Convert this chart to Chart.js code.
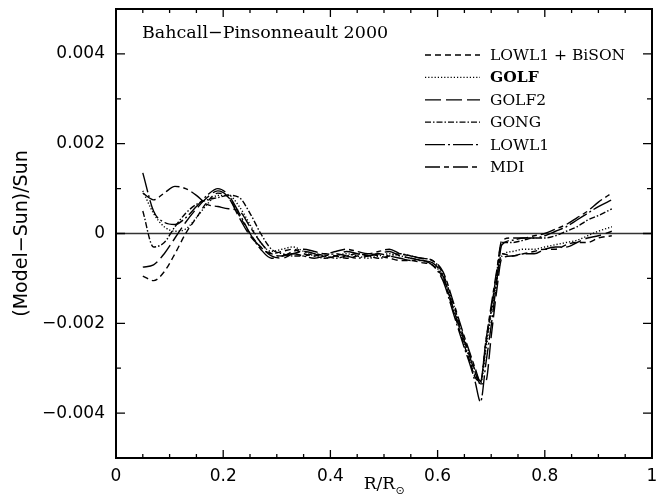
<!DOCTYPE html>
<html>
<head>
<meta charset="utf-8">
<script src="https://cdn.jsdelivr.net/npm/chart.js@4.4.1/dist/chart.umd.min.js"></script>
<style>
  html, body { margin: 0; padding: 0; background: #fff; }
  canvas { display: block; }
</style>
</head>
<body>
<canvas id="chart" width="660" height="504"></canvas>
<script>
// radius grid, R/Rsun
const xs = [0.05,0.07,0.09,0.11,0.13,0.15,0.17,0.19,0.21,0.23,0.25,0.27,0.29,0.31,0.33,0.35,
  0.37,0.39,0.41,0.43,0.45,0.47,0.49,0.51,0.53,0.55,0.57,0.59,0.61,0.63,0.65,
  0.66,0.67,0.68,0.69,0.70,0.71,0.72,
  0.74,0.76,0.78,0.80,0.82,0.84,0.86,0.88,0.90,0.925];

// (Model-Sun)/Sun in units of 1e-3
const lowlBison = [-0.95,-1.05,-0.85,-0.45,0.0,0.35,0.7,0.9,0.8,0.4,0.0,-0.3,-0.45,-0.4,-0.35,-0.45,
  -0.5,-0.45,-0.5,-0.55,-0.5,-0.45,-0.5,-0.55,-0.6,-0.6,-0.65,-0.7,-1.0,-1.75,-2.5,
  -2.85,-3.2,-3.3,-2.4,-1.7,-1.0,-0.45,
  -0.5,-0.45,-0.4,-0.35,-0.35,-0.25,-0.2,-0.2,-0.1,-0.05];
const golf = [0.95,0.45,0.15,0.05,0.1,0.35,0.65,0.85,0.85,0.6,0.2,-0.2,-0.4,-0.35,-0.3,-0.4,
  -0.5,-0.55,-0.5,-0.45,-0.5,-0.55,-0.5,-0.45,-0.5,-0.55,-0.6,-0.7,-0.95,-1.7,-2.45,
  -2.8,-3.15,-3.35,-2.6,-1.8,-1.1,-0.5,
  -0.4,-0.35,-0.35,-0.3,-0.25,-0.2,-0.15,-0.05,0.05,0.15];
const golf2 = [-0.75,-0.7,-0.45,-0.1,0.25,0.55,0.8,0.95,0.8,0.35,-0.05,-0.3,-0.5,-0.55,-0.45,-0.4,
  -0.45,-0.55,-0.5,-0.4,-0.45,-0.5,-0.45,-0.4,-0.5,-0.55,-0.6,-0.65,-0.95,-1.7,-2.4,
  -2.75,-3.1,-3.35,-3.3,-2.3,-1.3,-0.55,
  -0.5,-0.45,-0.45,-0.35,-0.3,-0.3,-0.2,-0.1,-0.05,0.05];
const gong = [0.5,-0.3,-0.2,0.15,0.45,0.65,0.75,0.8,0.85,0.8,0.45,0.0,-0.35,-0.45,-0.5,-0.5,
  -0.45,-0.5,-0.55,-0.5,-0.45,-0.5,-0.55,-0.5,-0.45,-0.5,-0.55,-0.6,-0.9,-1.6,-2.35,
  -2.7,-3.05,-3.3,-2.5,-1.7,-0.9,-0.2,
  -0.2,-0.15,-0.1,-0.1,-0.05,0.05,0.15,0.3,0.4,0.55];
const lowl1 = [1.35,0.5,0.25,0.2,0.35,0.6,0.85,1.0,0.85,0.45,0.0,-0.35,-0.55,-0.5,-0.45,-0.5,
  -0.55,-0.5,-0.45,-0.5,-0.55,-0.5,-0.45,-0.5,-0.55,-0.6,-0.6,-0.7,-1.05,-1.8,-2.55,
  -2.9,-3.3,-3.75,-2.9,-2.05,-1.1,-0.25,
  -0.15,-0.1,-0.1,-0.05,0.05,0.15,0.3,0.45,0.6,0.75];
const mdi = [0.9,0.75,0.9,1.05,1.0,0.85,0.65,0.6,0.55,0.5,0.15,-0.2,-0.45,-0.5,-0.4,-0.35,
  -0.4,-0.45,-0.4,-0.35,-0.4,-0.45,-0.4,-0.35,-0.45,-0.5,-0.55,-0.6,-0.85,-1.55,-2.3,
  -2.65,-3.0,-3.3,-2.4,-1.6,-0.85,-0.15,
  -0.1,-0.1,-0.05,0.0,0.1,0.2,0.35,0.5,0.7,0.9];

const seriesNames = ['LOWL1 + BiSON', 'GOLF', 'GOLF2', 'GONG', 'LOWL1', 'MDI'];
const seriesValues = [lowlBison, golf, golf2, gong, lowl1, mdi];
const seriesDash = [[6, 4], [1.2, 2], [16, 5], [6, 2, 1.5, 2], [20, 3, 2, 3], [15, 4, 5, 4]];

const xTickLabels = ['0', '0.2', '0.4', '0.6', '0.8', '1'];
const yTickLabels = ['\u22120.004', '\u22120.002', '0', '0.002', '0.004'];

const datasets = seriesNames.map((name, i) => ({
  label: name,
  data: xs.map((x, j) => ({ x: x, y: seriesValues[i][j] * 1e-3 })),
  borderColor: '#000',
  borderWidth: 1.4,
  borderDash: seriesDash[i],
  pointRadius: 0,
  cubicInterpolationMode: 'monotone',
  fill: false
}));

const decor = {
  id: 'decor',
  beforeDatasetsDraw(chart) {
    const { ctx, chartArea: a, scales: { y } } = chart;
    const y0 = y.getPixelForValue(0);
    ctx.save();
    ctx.strokeStyle = '#333';
    ctx.lineWidth = 1.3;
    ctx.beginPath();
    ctx.moveTo(a.left, y0);
    ctx.lineTo(a.right, y0);
    ctx.stroke();
    ctx.restore();
  },
  afterDraw(chart) {
    const { ctx, chartArea: a, scales: { x, y } } = chart;
    ctx.save();
    ctx.strokeStyle = '#000';
    ctx.fillStyle = '#000';

    // frame
    ctx.lineWidth = 2;
    ctx.strokeRect(a.left, a.top, a.right - a.left, a.bottom - a.top);

    // inward ticks on all four sides
    ctx.lineWidth = 1.3;
    ctx.beginPath();
    x.ticks.forEach(t => {
      const px = x.getPixelForValue(t.value);
      const major = Math.abs(t.value * 5 - Math.round(t.value * 5)) < 1e-6;
      const len = major ? 8 : 4;
      ctx.moveTo(px, a.bottom); ctx.lineTo(px, a.bottom - len);
      ctx.moveTo(px, a.top); ctx.lineTo(px, a.top + len);
    });
    y.ticks.forEach(t => {
      const py = y.getPixelForValue(t.value);
      const major = Math.round(t.value * 1000) % 2 === 0;
      const len = major ? 9 : 5;
      ctx.moveTo(a.left, py); ctx.lineTo(a.left + len, py);
      ctx.moveTo(a.right, py); ctx.lineTo(a.right - len, py);
    });
    ctx.stroke();

    // title inside the frame
    ctx.font = '17.5px "DejaVu Serif"';
    ctx.textAlign = 'left';
    ctx.textBaseline = 'middle';
    ctx.fillText('Bahcall\u2212Pinsonneault 2000', 142, 33);

    // legend
    ctx.lineWidth = 1.3;
    seriesNames.forEach((name, i) => {
      const ly = 55 + i * 22.4;
      ctx.setLineDash(seriesDash[i]);
      ctx.beginPath();
      ctx.moveTo(425, ly);
      ctx.lineTo(480, ly);
      ctx.stroke();
      ctx.setLineDash([]);
      ctx.font = (name === 'GOLF' ? 'bold ' : '') + '15.5px "DejaVu Serif"';
      ctx.fillText(name, 490, ly + 1);
    });

    // x axis title R/R(sun)
    ctx.font = '17px "DejaVu Serif"';
    const main = 'R/R';
    const w1 = ctx.measureText(main).width;
    ctx.font = '11px "DejaVu Sans"';
    const w2 = ctx.measureText('\u2299').width;
    const sx = (a.left + a.right) / 2 - (w1 + w2) / 2;
    ctx.textBaseline = 'alphabetic';
    ctx.font = '17px "DejaVu Serif"';
    ctx.fillText(main, sx, 489);
    ctx.font = '11px "DejaVu Sans"';
    ctx.fillText('\u2299', sx + w1 + 0.5, 494);

    // y axis title
    ctx.translate(22, (a.top + a.bottom) / 2);
    ctx.rotate(-Math.PI / 2);
    ctx.font = '19px "DejaVu Sans"';
    ctx.textAlign = 'center';
    ctx.textBaseline = 'middle';
    ctx.fillText('(Model\u2212Sun)/Sun', 0, 0);
    ctx.restore();
  }
};

new Chart(document.getElementById('chart'), {
  type: 'line',
  data: { datasets: datasets },
  options: {
    responsive: false,
    animation: false,
    layout: { padding: { top: 9, right: 8, left: 0, bottom: 0 } },
    plugins: { legend: { display: false }, tooltip: { enabled: false } },
    scales: {
      x: {
        type: 'linear',
        min: 0,
        max: 1,
        grid: { display: false, drawTicks: false },
        border: { display: false },
        afterFit: s => { s.height = 46; s.paddingLeft = 0; s.paddingRight = 0; },
        ticks: {
          stepSize: 0.05,
          autoSkip: false,
          maxRotation: 0,
          padding: 8,
          color: '#000',
          font: { family: 'DejaVu Sans', size: 17 },
          callback: v => {
            const k = v * 5;
            return Math.abs(k - Math.round(k)) < 1e-6 ? xTickLabels[Math.round(k)] : '';
          }
        }
      },
      y: {
        min: -0.005,
        max: 0.005,
        grid: { display: false, drawTicks: false },
        border: { display: false },
        afterFit: s => { s.width = 116; s.paddingTop = 0; s.paddingBottom = 0; },
        ticks: {
          stepSize: 0.001,
          autoSkip: false,
          padding: 11,
          color: '#000',
          font: { family: 'DejaVu Sans', size: 17 },
          callback: v => {
            const k = Math.round(v * 1000);
            return k % 2 === 0 ? yTickLabels[k / 2 + 2] : '';
          }
        }
      }
    }
  },
  plugins: [decor]
});
</script>
</body>
</html>
